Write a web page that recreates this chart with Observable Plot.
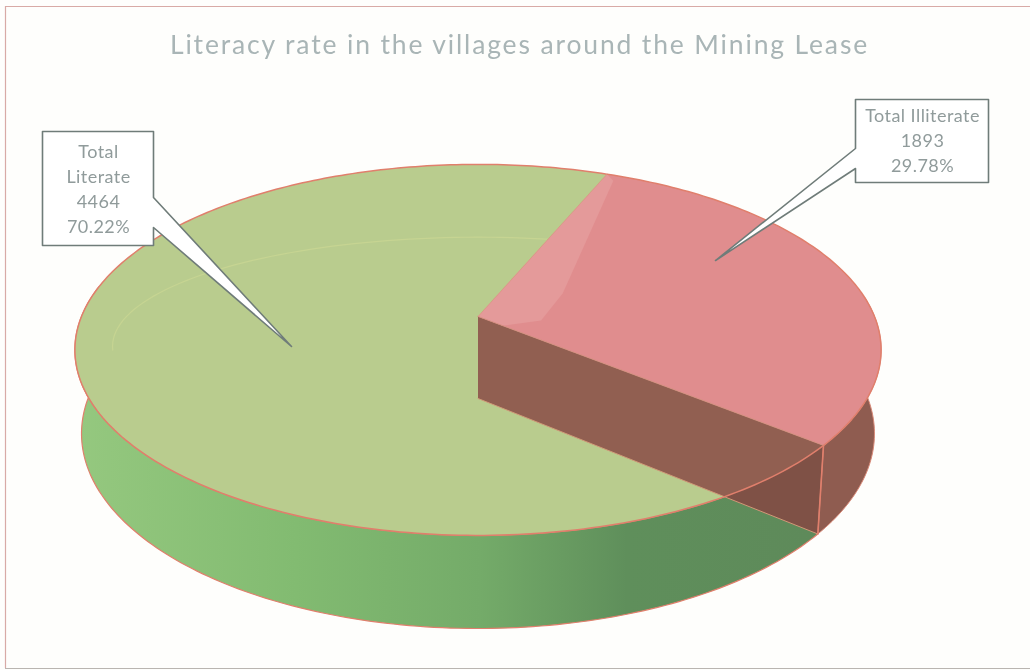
<!DOCTYPE html>
<html>
<head>
<meta charset="utf-8">
<script src="https://cdn.jsdelivr.net/npm/d3@7"></script>
<script src="https://cdn.jsdelivr.net/npm/@observablehq/plot@0.6"></script>
<style>
  html, body { margin: 0; padding: 0; background: #fefefc; }
  #chart svg { display: block; filter: blur(0.45px); }
  .ttl text { letter-spacing: 1.85px; }
  .lab text { letter-spacing: 0.45px; }
</style>
</head>
<body>
<div id="chart"></div>
<script>
// ---- data ----
const categories = ["Total Illiterate", "Total Literate"];
const values = [1893, 4464];
const percents = ["29.78%", "70.22%"];
const titleText = "Literacy rate in the villages around the Mining Lease";

// ---- perspective disc geometry ----
const startDeg = 22.3, k = 0.18;
const topPlane = {cx: 477.5, A: 396.5, B: 179.5, y0: 316};
const botPlane = {cx: 477.5, A: 390, B: 188.6, y0: 398};
function project(deg, r, plane) {
  const t = deg * Math.PI / 180, u = r * Math.sin(t), v = -r * Math.cos(t), w = 1 - k * v;
  return {x: plane.cx + plane.A * u / w, y: plane.y0 + plane.B * v / w};
}
function arc(a0, a1, plane, r = 1) {
  const n = Math.max(2, Math.ceil(Math.abs(a1 - a0))), pts = [];
  for (let i = 0; i <= n; i++) pts.push(project(a0 + (a1 - a0) * i / n, r, plane));
  return pts;
}
const total = d3.sum(values);
const redEnd = startDeg + values[0] / total * 360;
const greenEnd = startDeg + 360;
const apexTop = project(0, 0, topPlane), apexBot = project(0, 0, botPlane);
const sector = (a0, a1) => [apexTop, ...arc(a0, a1, topPlane), apexTop];
const wall = (a0, a1) => [...arc(a0, a1, topPlane), ...arc(a1, a0, botPlane), project(a0, 1, topPlane)];

const redCorner = project(redEnd, 1, topPlane), redCornerBot = project(redEnd, 1, botPlane);
const hiddenDeg = 148.3;  // where the radial wall's foot leaves the top rim

const radialWall = [apexTop, redCorner, redCornerBot, apexBot, apexTop];
const cornerPatch = [...arc(hiddenDeg, redEnd, topPlane), redCornerBot, project(hiddenDeg, 1, topPlane)];
const highlight = [apexTop, project(startDeg, 1, topPlane), project(startDeg + 2, 0.96, topPlane),
  project(59, 0.255, topPlane), project(98, 0.16, topPlane), project(redEnd, 0.08, topPlane), apexTop];
// faint bevel arc on the top face
const bevel = d3.range(172, 292, 2).map(t => {
  const a = t * Math.PI / 180, u = 0.9 * Math.cos(a), v = 0.1 + 0.58 * Math.sin(a), w = 1 - k * v;
  return {x: topPlane.cx + topPlane.A * u / w, y: topPlane.y0 + topPlane.B * v / w};
});

// ---- callouts ----
function callout(x0, y0, x1, y1, side, a, b, tip) {
  return [{x:x0,y:y0},{x:x1,y:y0},
    ...(side === "right" ? [{x:x1,y:a},tip,{x:x1,y:b}] : []),
    {x:x1,y:y1},{x:x0,y:y1},
    ...(side === "left" ? [{x:x0,y:b},tip,{x:x0,y:a}] : []),
    {x:x0,y:y0}];
}
const leftBox = callout(42, 131, 153, 245, "right", 197, 227, {x: 291, y: 346});
const rightBox = callout(855, 99, 988, 182, "left", 148, 168, {x: 715, y: 260});

const defs = () => {
  const d = d3.create("svg:defs");
  const g = d.append("linearGradient").attr("id", "gw").attr("gradientUnits", "userSpaceOnUse")
    .attr("x1", 75).attr("x2", 810).attr("y1", 0).attr("y2", 0);
  [[0, "#95c87f"], [0.3, "#82bb71"], [0.55, "#74ab69"], [0.75, "#5f8f5b"], [1, "#5e8a5a"]]
    .forEach(([o, c]) => g.append("stop").attr("offset", o).attr("stop-color", c));
  return d.node();
};

const rim = "#e07f6c";
const poly = (pts, fill, extra = {}) => Plot.line(pts, {x: "x", y: "y", fill, stroke: "none", curve: "linear", ...extra});

const chart = Plot.plot({
  width: 1030, height: 670, margin: 0,
  x: {type: "identity", axis: null},
  y: {type: "identity", axis: null},
  style: {background: "#fefefc"},
  marks: [
    defs,
    // page frame
    Plot.ruleX([5], {y1: 6, y2: 668, stroke: "#d8aaa6", strokeWidth: 1.2}),
    Plot.ruleY([6], {x1: 5, x2: 1030, stroke: "#d8aaa6", strokeWidth: 1.2}),
    Plot.ruleY([668], {x1: 5, x2: 1030, stroke: "#b9b5b0", strokeWidth: 1.2}),
    // walls and faces, back to front
    poly(wall(redEnd, 280), "url(#gw)", {stroke: rim, strokeWidth: 1.2}),
    poly(sector(redEnd, greenEnd), "#b9cc8e"),
    Plot.line(bevel, {x: "x", y: "y", stroke: "#c6d492", strokeWidth: 1.2}),
    poly(radialWall, "#915f51"),
    poly(cornerPatch, "#7f5146"),
    Plot.line([apexBot, redCornerBot], {x: "x", y: "y", stroke: "#cf9a78", strokeWidth: 1}),
    poly(wall(84, redEnd), "#8f5c50", {stroke: "#d98a78", strokeWidth: 1}),
    Plot.line([redCorner, redCornerBot], {x: "x", y: "y", stroke: rim, strokeWidth: 1.6}),
    poly(sector(startDeg, redEnd), "#e08d8e"),
    poly(highlight, "#e49a9a"),
    Plot.line(arc(startDeg, greenEnd, topPlane), {x: "x", y: "y", stroke: rim, strokeWidth: 1.5}),
    Plot.line([apexTop, redCorner], {x: "x", y: "y", stroke: "#cf8a78", strokeWidth: 0.8}),
    Plot.line([apexTop, project(startDeg, 1, topPlane)], {x: "x", y: "y", stroke: "#d29a7e", strokeWidth: 0.8}),
    // callouts
    poly(leftBox, "#ffffff", {stroke: "#6f7c79", strokeWidth: 1.6}),
    poly(rightBox, "#ffffff", {stroke: "#6f7c79", strokeWidth: 1.6}),
    Plot.text([["Total\nLiterate", values[1], percents[1]].join("\n")], {
      x: () => 98, y: () => 187, text: d => d, fontFamily: "Lato", fontSize: 18, lineHeight: 1.39, fill: "#909b9b", className: "lab"
    }),
    Plot.text([[categories[0], values[0], percents[0]].join("\n")], {
      x: () => 922, y: () => 138.5, text: d => d, fontFamily: "Lato", fontSize: 18, lineHeight: 1.39, fill: "#909b9b", className: "lab"
    }),
    Plot.text([titleText], {
      x: () => 519, y: () => 45, text: d => d, fontFamily: "Lato", fontSize: 26.5, fill: "#a9b5b6", className: "ttl"
    })
  ]
});
document.getElementById("chart").append(chart);
</script>
</body>
</html>
